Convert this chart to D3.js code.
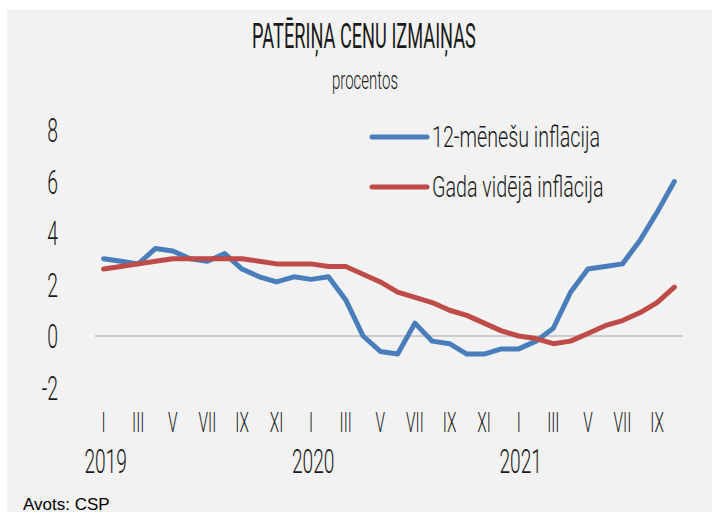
<!DOCTYPE html>
<html>
<head>
<meta charset="utf-8">
<script src="https://cdn.jsdelivr.net/npm/d3@7"></script>
<style>
  body { margin: 0; background: #ffffff; }
  svg { display: block; }
  text { font-family: Roboto, "Noto Sans", sans-serif; fill: #1a1a1a; }
</style>
</head>
<body>
<svg id="chart" width="712" height="515"></svg>
<script>
// Monthly data, I.2019 - X.2021
const monthNames = ['I', 'II', 'III', 'IV', 'V', 'VI', 'VII', 'VIII', 'IX', 'X', 'XI', 'XII'];
const years = ['2019', '2020', '2021'];
const yTicks = [-2, 0, 2, 4, 6, 8];

const infl12 = [
    3.0, 2.9, 2.8, 3.4, 3.3, 3.0, 2.9, 3.2, 2.6, 2.3, 2.1, 2.3,
    2.2, 2.3, 1.4, 0.0, -0.6, -0.7, 0.5, -0.2, -0.3, -0.7, -0.7, -0.5,
    -0.5, -0.2, 0.3, 1.7, 2.6, 2.7, 2.8, 3.7, 4.8, 6.0
];
const inflAvg = [
    2.6, 2.7, 2.8, 2.9, 3.0, 3.0, 3.0, 3.0, 3.0, 2.9, 2.8, 2.8,
    2.8, 2.7, 2.7, 2.4, 2.1, 1.7, 1.5, 1.3, 1.0, 0.8, 0.5, 0.2,
    0.0, -0.1, -0.3, -0.2, 0.1, 0.4, 0.6, 0.9, 1.3, 1.9
];

const series = [
    { name: '12-mēnešu inflācija', values: infl12, color: '#4a7ebb' },
    { name: 'Gada vidējā inflācija', values: inflAvg, color: '#be4b48' }
];

const svg = d3.select('#chart');
const months = d3.range(infl12.length);

const x = d3.scalePoint().domain(months).range([95, 683]).padding(0.5);
const y = d3.scaleLinear().domain([-2, 8]).range([387.5, 130]);

// condensed text helper
function label(g, txt, px, py, size, sx, anchor, weight) {
    return g.append('text')
        .attr('transform', `translate(${px},${py}) scale(${sx},1)`)
        .attr('text-anchor', anchor || 'middle')
        .style('font-size', size + 'px')
        .style('font-weight', weight || 300)
        .text(txt);
}

// panel background
svg.append('rect')
    .attr('x', 7).attr('y', 10)
    .attr('width', 705).attr('height', 502)
    .attr('fill', '#f2f2f2');

// title
label(svg, 'PATĒRIŅA CENU IZMAIŅAS', 364, 48, 35, 0.52, 'middle', 400);
label(svg, 'procentos', 365, 89, 25, 0.6, 'middle', 300);

// y labels
const yAxis = svg.append('g').attr('class', 'y-labels');
yTicks.forEach(t => {
    label(yAxis, t, 58, y(t) + 12, 34, 0.57, 'end', 300);
});

// zero line
svg.append('line')
    .attr('x1', 95).attr('x2', 683)
    .attr('y1', y(0)).attr('y2', y(0))
    .attr('stroke', '#a6a6a6')
    .attr('stroke-width', 1);

// x labels: every other month, years under January
const xAxis = svg.append('g').attr('class', 'x-labels');
months.forEach(i => {
    if (i % 2 === 0) label(xAxis, monthNames[i % 12], x(i), 432, 28, 0.55, 'middle', 300);
    if (i % 12 === 0) label(xAxis, years[i / 12], x(i) + 2, 473, 33, 0.58, 'middle', 300);
});

// lines
const line = d3.line()
    .x((d, i) => x(i))
    .y(d => y(d));

svg.selectAll('path.series')
    .data(series)
    .join('path')
    .attr('class', 'series')
    .attr('d', d => line(d.values))
    .attr('fill', 'none')
    .attr('stroke', d => d.color)
    .attr('stroke-width', 5)
    .attr('stroke-linejoin', 'round')
    .attr('stroke-linecap', 'round');

// legend
const legend = svg.append('g')
    .attr('class', 'legend')
    .selectAll('g')
    .data(series)
    .join('g')
    .attr('transform', (d, i) => `translate(372,${137 + i * 50})`);

legend.append('line')
    .attr('x1', 0).attr('x2', 55)
    .attr('stroke', d => d.color)
    .attr('stroke-width', 5)
    .attr('stroke-linecap', 'round');

legend.each(function (d) {
    label(d3.select(this), d.name, 60, 10, 29, 0.68, 'start', 300);
});

// source
svg.append('text')
    .attr('x', 23).attr('y', 510)
    .style('font-family', '"Liberation Sans", Arial, sans-serif')
    .style('font-size', '17px')
    .style('fill', '#000')
    .text('Avots: CSP');
</script>
</body>
</html>
